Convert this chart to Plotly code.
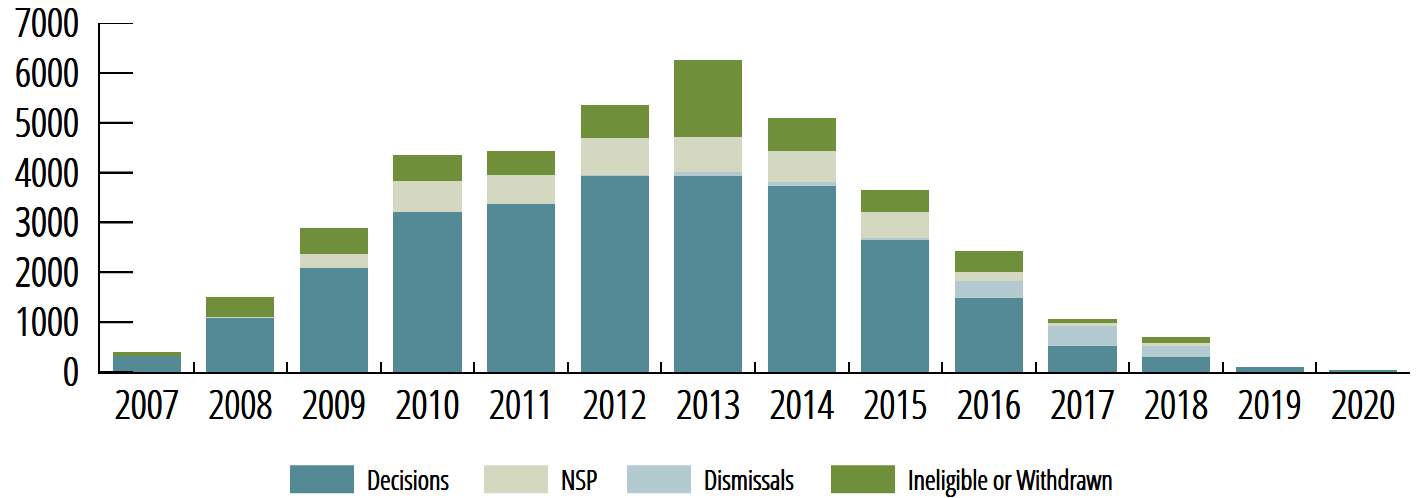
import plotly.graph_objects as go

years = ["2007", "2008", "2009", "2010", "2011", "2012", "2013",
         "2014", "2015", "2016", "2017", "2018", "2019", "2020"]
decisions = [330, 1090, 2094, 3216, 3377, 3940, 3938, 3737, 2655, 1493, 531, 291, 110, 40]
nsp = [0, 10, 281, 622, 581, 740, 711, 620, 520, 180, 60, 60, 0, 0]
dismissals = [0, 0, 0, 0, 0, 15, 70, 80, 40, 340, 387, 240, 0, 0]
ineligible = [80, 410, 521, 521, 481, 660, 1544, 660, 440, 420, 94, 120, 0, 0]
y_ticks = [0, 1000, 2000, 3000, 4000, 5000, 6000, 7000]

series_names = ["Decisions", "NSP", "Dismissals", "Ineligible or Withdrawn"]
series_values = [decisions, nsp, dismissals, ineligible]
series_colors = ["#548996", "#D4D8C1", "#B3CAD0", "#708F3A"]
stack_order = [0, 2, 1, 3]

FONT = "Open Sans Condensed Light, DejaVu Sans Condensed, sans-serif"
BOLDEN = "0.45px 0 0 black, -0.45px 0 0 black, 0 0.3px 0 black"

fig = go.Figure()
for i in stack_order:
    fig.add_trace(go.Bar(x=years, y=series_values[i], name=series_names[i],
                         marker=dict(color=series_colors[i], line=dict(width=0)),
                         showlegend=False))

W, H = 1421, 498
ml, mr, mt, mb = 100, 11, 23, 125.5
pw, ph = W - ml - mr, H - mt - mb
YTICK_LEN = 33

def px2paper_x(px):
    return (px - ml) / pw

def px2paper_y(py):
    return (H - mb - py) / ph

# long inward y tick marks (drawn from the tick values)
for v in y_ticks:
    fig.add_shape(type="line", xref="paper", yref="y", x0=0, x1=YTICK_LEN / pw, y0=v, y1=v,
                  line=dict(color="black", width=2), layer="above")

# legend drawn with large swatches like the reference
swatch_x = [290, 484, 627, 831]
for name, col, sx in zip(series_names, series_colors, swatch_x):
    fig.add_shape(type="rect", xref="paper", yref="paper",
                  x0=px2paper_x(sx), x1=px2paper_x(sx + 64),
                  y0=px2paper_y(494), y1=px2paper_y(466),
                  fillcolor=col, line=dict(width=0))
    fig.add_annotation(xref="paper", yref="paper", x=px2paper_x(sx + 75), y=px2paper_y(480),
                       text=name, showarrow=False, xanchor="left", yanchor="middle",
                       font=dict(family=FONT, size=27, color="black", shadow=BOLDEN))

fig.update_layout(
    width=W, height=H,
    margin=dict(l=ml, r=mr, t=mt, b=mb),
    barmode="stack", bargap=0.273,
    plot_bgcolor="white", paper_bgcolor="white",
    font=dict(family=FONT, color="black"),
)
fig.update_yaxes(range=[0, 7001], tickvals=y_ticks, ticklabeloverflow="allow",
                 showgrid=False, zeroline=False, showline=True, linecolor="black", linewidth=2,
                 ticks="inside", ticklen=YTICK_LEN, tickwidth=2, tickcolor="black", automargin=False,
                 tickfont=dict(family=FONT, size=40, color="black", shadow=BOLDEN),
                 ticklabelstandoff=11)
fig.update_xaxes(showgrid=False, showline=True, linecolor="black", linewidth=2, tickangle=0,
                 ticks="inside", tickson="boundaries", ticklen=10, tickwidth=2, tickcolor="black",
                 automargin=False, ticklabeloverflow="allow",
                 tickfont=dict(family=FONT, size=40, color="black", shadow=BOLDEN),
                 ticklabelstandoff=-3)

fig.write_html("out.html", config={"displayModeBar": False},
               post_script="document.body.style.margin='0px';document.body.style.overflow='hidden';")
